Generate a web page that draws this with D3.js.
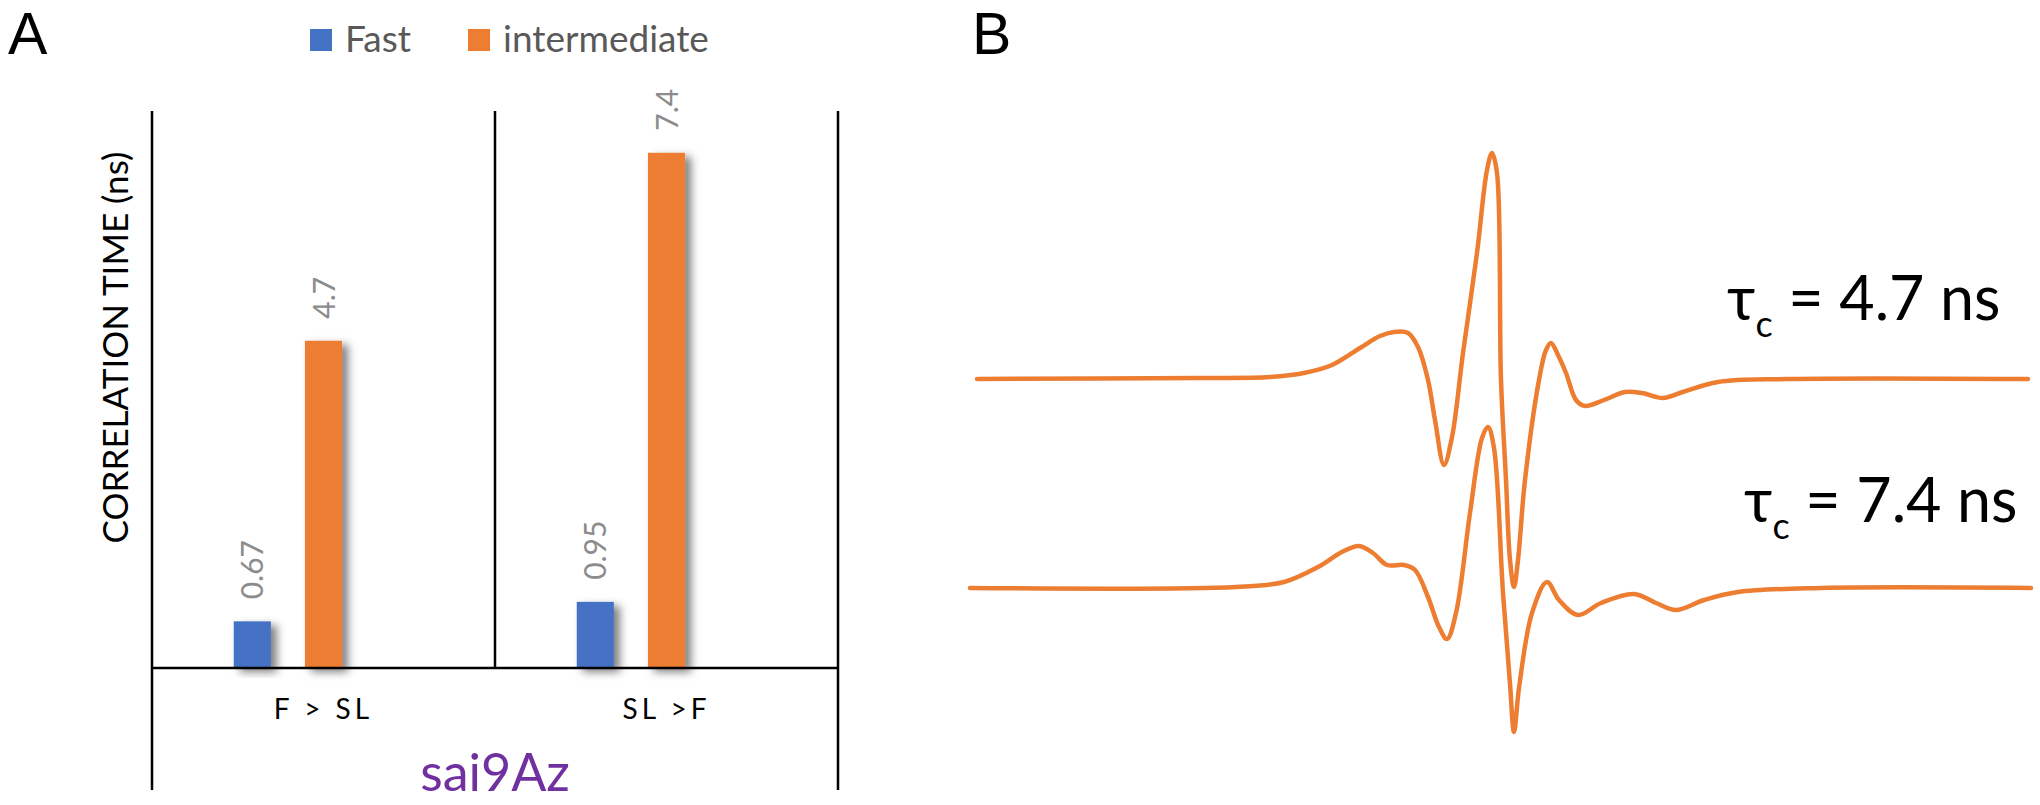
<!DOCTYPE html>
<html>
<head>
<meta charset="utf-8">
<script src="https://cdn.jsdelivr.net/npm/d3@7/dist/d3.min.js"></script>
<style>
  html, body { margin: 0; padding: 0; background: #fff; }
  svg { display: block; }
  text { font-family: Lato, "Noto Sans", "DejaVu Sans", sans-serif; }
</style>
</head>
<body>
<svg id="chart" width="2040" height="805"></svg>
<script>
// ---------------- Panel A data ----------------
const categories = ["F > SL", "SL >F"];
const seriesNames = ["Fast", "intermediate"];
const fastValues = [0.67, 0.95];
const intermediateValues = [4.7, 7.4];
const yDomain = [0, 8];
const groupLabel = "sai9Az";
const yTitle = "CORRELATION TIME (ns)";
const seriesColors = ["#4472C4", "#ED7D31"];

// ---------------- Panel B data ----------------
// field offset (arbitrary units) and derivative intensity (arbitrary units)
const fieldTop = [-52.3, -29.9, -23.0, -19.6, -16.8, -14.0, -12.0, -10.6, -9.2, -8.2, -7.2, -6.5, -5.6, -4.8, -3.7, -2.3, -1.3, -0.8, -0.3, 0.1, 0.6, 1.0, 1.4, 1.8, 2.5, 3.9, 4.6, 5.1, 5.8, 6.6, 7.6, 8.5, 10.4, 12.5, 14.2, 16.3, 18.3, 21.8, 28.7, 52.8];
const intensityTop = [0, 0.1, 0.2, 0.6, 1.4, 3.1, 4.3, 4.7, 4.6, 3.2, -0.1, -4.1, -8.6, -5.8, 2.6, 12.6, 20.9, 22.6, 20.6, -0.1, -10.1, -18.1, -20.8, -18.1, -10.1, -0.1, 2.9, 3.6, 2.4, 0.6, -2.1, -2.7, -2.1, -1.3, -1.4, -1.9, -1.3, -0.3, 0, 0];
const fieldBottom = [-53.0, -26.4, -21.6, -18.2, -15.8, -14.1, -12.7, -11.3, -9.6, -8.5, -7.2, -6.1, -5.3, -4.4, -3.0, -1.8, -1.2, -0.6, 0.3, 1.0, 1.4, 1.9, 3.2, 4.7, 5.9, 7.8, 10.1, 13.4, 15.6, 17.6, 20.4, 23.8, 32.1, 53.1];
const intensityBottom = [0, 0.1, 0.6, 2.1, 3.6, 4.2, 3.5, 2.3, 2.3, 1.8, -0.9, -3.9, -5.1, -2.5, 7.5, 15.0, 16.1, 14.0, -0.5, -9.6, -14.4, -10.0, -2.5, 0.6, -1.2, -2.7, -1.5, -0.6, -1.5, -2.2, -1.2, -0.4, 0, 0];
const spectrumOffsets = [0, -20.9];
const tauValues = ["4.7", "7.4"];
const spectrumColor = "#ED7D31";

// ---------------- Drawing ----------------
const svg = d3.select("#chart");
svg.append("rect").attr("width", 2040).attr("height", 805).attr("fill", "#fff");

const defs = svg.append("defs");
const flt = defs.append("filter").attr("id", "shadow")
  .attr("x", "-50%").attr("y", "-20%").attr("width", "220%").attr("height", "140%");
flt.append("feDropShadow").attr("dx", 6).attr("dy", 4).attr("stdDeviation", 4)
  .attr("flood-color", "#000").attr("flood-opacity", 0.5);

// Panel letters
svg.append("text").attr("x", 8).attr("y", 54).attr("font-size", 59)
  .style("font-family", "'Liberation Sans', Arial, sans-serif").attr("fill", "#000").text("A");
svg.append("text").attr("x", 972).attr("y", 54).attr("font-size", 59)
  .style("font-family", "'Liberation Sans', Arial, sans-serif").attr("fill", "#000").text("B");

// Scales
const x0 = d3.scaleBand().domain(categories).range([152, 838]).padding(0);
const x1 = d3.scaleBand().domain([0, 1, 2]).range([0, x0.bandwidth()])
  .paddingInner(0.479).paddingOuter(1.148);
const y = d3.scaleLinear().domain(yDomain).range([668, 111]);

const gA = svg.append("g");

// Bars
const barData = [];
categories.forEach((c, i) => {
  barData.push({ cat: c, s: 0, v: fastValues[i] });
  barData.push({ cat: c, s: 1, v: intermediateValues[i] });
});
gA.selectAll("rect.bar").data(barData).join("rect")
  .attr("class", "bar")
  .attr("x", d => x0(d.cat) + x1(d.s))
  .attr("y", d => y(d.v))
  .attr("width", x1.bandwidth())
  .attr("height", d => y(0) - y(d.v))
  .attr("fill", d => seriesColors[d.s])
  .attr("filter", "url(#shadow)");

// Value labels (rotated)
gA.selectAll("text.val").data(barData).join("text")
  .attr("class", "val")
  .attr("transform", d => `translate(${x0(d.cat) + x1(d.s) + x1.bandwidth() / 2 + 11},${y(d.v) - 22}) rotate(-90)`)
  .attr("text-anchor", "start")
  .attr("font-size", 30)
  .attr("fill", "#8c8c8c")
  .text(d => String(d.v));

// Frame lines
const yTop = y(yDomain[1]);
const yBase = y(0);
const xL = x0.range()[0], xR = x0.range()[1];
const lineStyle = sel => sel.attr("stroke", "#000").attr("stroke-width", 2.5);
gA.append("line").attr("x1", xL).attr("x2", xL).attr("y1", yTop).attr("y2", 790).call(lineStyle);
gA.append("line").attr("x1", xR).attr("x2", xR).attr("y1", yTop).attr("y2", 790).call(lineStyle);
categories.slice(1).forEach(c => {
  gA.append("line").attr("x1", x0(c)).attr("x2", x0(c)).attr("y1", yTop).attr("y2", yBase).call(lineStyle);
});
gA.append("line").attr("x1", xL).attr("x2", xR).attr("y1", yBase).attr("y2", yBase).call(lineStyle);

// Category labels
gA.selectAll("text.cat").data(categories).join("text")
  .attr("class", "cat")
  .attr("x", d => x0(d) + x0.bandwidth() / 2)
  .attr("y", 719)
  .attr("text-anchor", "middle")
  .attr("font-size", 28)
  .attr("letter-spacing", 4)
  .attr("fill", "#000")
  .text(d => d);

// Group label
gA.append("text").attr("x", (xL + xR) / 2).attr("y", 791)
  .attr("text-anchor", "middle").attr("font-size", 52).attr("fill", "#7030A0")
  .text(groupLabel);

// Y title
gA.append("text")
  .attr("transform", `translate(128,${(yTop + yBase) / 2 - 42}) rotate(-90)`)
  .attr("text-anchor", "middle").attr("font-size", 35).attr("fill", "#000")
  .text(yTitle);

// Legend
const legendX = [310, 468];
seriesNames.forEach((name, i) => {
  gA.append("rect").attr("x", legendX[i]).attr("y", 29).attr("width", 22).attr("height", 22)
    .attr("fill", seriesColors[i]);
  gA.append("text").attr("x", legendX[i] + 35).attr("y", 52)
    .attr("font-size", 37).attr("fill", "#595959").text(name);
});

// ---------------- Panel B ----------------
const xs = d3.scaleLinear().domain([-53, 53]).range([970, 2030]);
const ys = d3.scaleLinear().domain([-40, 25]).range([779, 129]);
const spectra = [
  { field: fieldTop, inten: intensityTop, off: spectrumOffsets[0] },
  { field: fieldBottom, inten: intensityBottom, off: spectrumOffsets[1] }
];
const line = d3.line().curve(d3.curveCatmullRom.alpha(0.5));
const gB = svg.append("g");
spectra.forEach(sp => {
  const pts = sp.field.map((f, i) => [xs(f), ys(sp.inten[i] + sp.off)]);
  gB.append("path").attr("d", line(pts)).attr("fill", "none")
    .attr("stroke", spectrumColor).attr("stroke-width", 4.5)
    .attr("stroke-linejoin", "round").attr("stroke-linecap", "round");
});

const tauPos = [[1727, 320], [1744, 522]];
tauValues.forEach((t, i) => {
  const tx = gB.append("text").attr("x", tauPos[i][0]).attr("y", tauPos[i][1])
    .attr("font-size", 61).attr("fill", "#000");
  tx.append("tspan").text("τ");
  tx.append("tspan").attr("font-size", 36).attr("dy", 17).text("c");
  tx.append("tspan").attr("dy", -17).text(" = " + t + " ns");
});
</script>
</body>
</html>
